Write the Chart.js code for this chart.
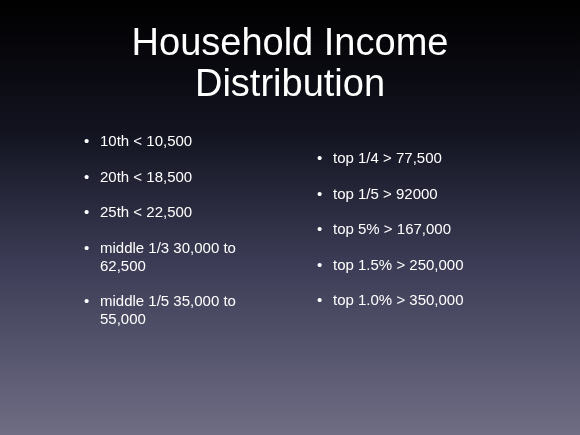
<!DOCTYPE html>
<html>
<head>
<meta charset="utf-8">
<script src="https://cdn.jsdelivr.net/npm/chart.js@4/dist/chart.umd.min.js"></script>
<style>
  html, body { margin: 0; padding: 0; width: 580px; height: 435px; overflow: hidden; background: #000; }
  #wrap { position: relative; width: 580px; height: 435px; }
  canvas { position: absolute; left: 0; top: 0; }
  .title { position: absolute; left: 0; width: 580px; top: 22px; text-align: center;
    color: #fff; font-family: 'Liberation Sans', Arial, sans-serif; font-weight: normal;
    font-size: 38px; line-height: 41px; }
  ul { position: absolute; margin: 0; padding: 0; list-style: none; color: #fff;
    font-family: 'Liberation Sans', Arial, sans-serif; font-size: 15px; line-height: 18px; }
  li { position: relative; padding-left: 16px; margin-bottom: 17.5px; }
  li::before { content: '•'; position: absolute; left: 0; }
</style>
</head>
<body>
<div id="wrap">
  <canvas id="bg" width="580" height="435"></canvas>
  <div class="title" id="title"></div>
  <ul id="left" style="left:84px; top:132px; width:200px;"></ul>
  <ul id="right" style="left:317px; top:149px; width:240px;"></ul>
</div>
<script>
const titleLines = ['Household Income', 'Distribution'];
const leftItems = ['10th < 10,500', '20th < 18,500', '25th < 22,500',
  'middle 1/3 30,000 to 62,500', 'middle 1/5 35,000 to 55,000'];
const rightItems = ['top 1/4 > 77,500', 'top 1/5 > 92000', 'top 5% > 167,000',
  'top 1.5% > 250,000', 'top 1.0% > 350,000'];
const gradientStops = [[0, '#000000'], [0.3, '#12131f'], [0.6, '#3b3b55'], [1, '#6e6d84']];

document.getElementById('title').innerHTML = titleLines.join('<br>');
function fill(id, items) {
  const ul = document.getElementById(id);
  items.forEach(t => { const li = document.createElement('li'); li.textContent = t; ul.appendChild(li); });
}
fill('left', leftItems);
fill('right', rightItems);

const backdrop = {
  id: 'backdrop',
  beforeDraw(chart) {
    const { ctx, width, height } = chart;
    const g = ctx.createLinearGradient(0, 0, 0, height);
    gradientStops.forEach(([o, c]) => g.addColorStop(o, c));
    ctx.save();
    ctx.fillStyle = g;
    ctx.fillRect(0, 0, width, height);
    ctx.restore();
  },
};

new Chart(document.getElementById('bg'), {
  type: 'bar',
  data: { labels: [], datasets: [] },
  options: {
    responsive: false,
    animation: false,
    scales: { x: { display: false }, y: { display: false } },
    plugins: { legend: { display: false }, tooltip: { enabled: false } },
  },
  plugins: [backdrop],
});
</script>
</body>
</html>
